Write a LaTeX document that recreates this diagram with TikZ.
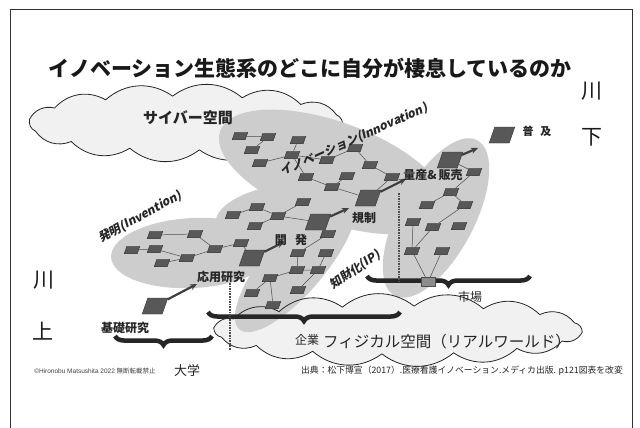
\documentclass[tikz,border=0pt]{standalone}
\usepackage{fontspec}
\setmainfont{Liberation Sans}
\newfontfamily\jp{Noto Sans CJK JP}
\newfontfamily\jpsl{Noto Sans CJK JP}[FakeSlant=0.2]
\usetikzlibrary{decorations.pathreplacing,arrows.meta}
\definecolor{ellgray}{HTML}{CDCDCD}
\definecolor{cloudfill}{HTML}{F1F1F1}
\definecolor{nodefill}{HTML}{585858}
\definecolor{nodedraw}{HTML}{303030}
\begin{document}
\begin{tikzpicture}[x=1pt,y=-1pt,
  sq/.style={draw=nodedraw, line width=0.4pt, fill=nodefill, minimum width=13pt, minimum height=7.5pt, inner sep=0pt, xslant=0.35, transform shape},
  big/.style={sq, minimum width=20pt, minimum height=16pt},
  lnk/.style={draw=black!70, line width=0.5pt},
  arr/.style={-{Stealth[length=7pt,width=6pt]}, line width=2.2pt, draw=black!75},
  lbl/.style={font=\jp\bfseries\fontsize{12}{12}\selectfont, text=black!85, inner sep=1pt},
  rot/.style={font=\jpsl\bfseries\fontsize{12}{12}\selectfont, text=black!85, inner sep=0pt},
  big text/.style={font=\jp\fontsize{21}{21}\selectfont, text=black!90, inner sep=0pt},
  cloudline/.style={draw=black!85, line width=0.8pt},
  brc/.style={decorate, decoration={brace, amplitude=9pt, mirror}, line width=4.5pt, draw=black!85},
  dots/.style={densely dotted, line width=1.6pt, draw=black!70}]
\useasboundingbox (0,0) rectangle (640,428);
\fill[white] (0,0) rectangle (640,428);
% frame
\draw[line width=0.9pt, black!80] (10,430) -- (10,9) -- (632,9) -- (632,430);
% title
\node[big text, font=\jp\bfseries\fontsize{21}{21}\selectfont] (title) at (310,68) {イノベーション生態系のどこに自分が棲息しているのか};
\node[big text] (kawa1) at (592,91) {川};
\node[big text] (shimo) at (592,137) {下};
\node[big text] (kawa2) at (44,280) {川};
\node[big text] (kami) at (43,331) {上};
% cloud outlines (points on ellipses)
\foreach \i in {0,...,13}
  \coordinate (cA\i) at ({186+158*cos(\i*360/14+8)}, {123+27*sin(\i*360/14+8)});
\foreach \i in {0,...,15}
  \coordinate (cB\i) at ({398+185*cos(\i*360/16+5)}, {330+24*sin(\i*360/16+5)});
% top cloud
\fill[cloudfill] (cA0) \foreach \i in {1,...,13} { to[bend left=38] (cA\i) } to[bend left=38] (cA0);
\draw[cloudline] (cA0) \foreach \i in {1,...,13} { to[bend left=38] (cA\i) } to[bend left=38] (cA0);
% bottom cloud fill
\fill[cloudfill] (cB0) \foreach \i in {1,...,15} { to[bend left=38] (cB\i) } to[bend left=38] (cB0);
% ellipses
\fill[ellgray, rotate around={-20:(333,172)}] (333,172) ellipse [x radius=120, y radius=50];
\fill[ellgray, rotate around={62:(436,218)}] (436,218) ellipse [x radius=88, y radius=38];
\fill[ellgray, rotate around={3:(193,253)}] (193,253) ellipse [x radius=82, y radius=35];
\fill[ellgray, rotate around={8:(282,215)}] (282,215) ellipse [x radius=67, y radius=30];
\fill[ellgray, rotate around={50:(296,262)}] (296,262) ellipse [x radius=88, y radius=30];
% bottom cloud outline
\draw[cloudline] (cB0) \foreach \i in {1,...,15} { to[bend left=38] (cB\i) } to[bend left=38] (cB0);
% invention nodes
\node[sq] (i1) at (155,235) {};
\node[sq] (i2) at (195,234) {};
\node[sq] (i3) at (132,250) {};
\node[sq] (i4) at (155,249) {};
\node[sq] (i5) at (162,263) {};
\node[sq] (i6) at (187,258) {};
\node[sq] (i7) at (215,249) {};
\node[sq] (i8) at (241,243) {};
\node[big] (iL) at (252,258) {};
% kaihatsu nodes
\node[sq] (k1) at (233,215) {};
\node[sq] (k2) at (257,207) {};
\node[sq] (k3) at (278,216) {};
\node[sq] (k4) at (303,202) {};
\node[sq] (k5) at (255,226) {};
\node[big] (kL) at (318,222) {};
% chizai nodes
\node[sq] (c1) at (328,234) {};
\node[sq] (c2) at (298,253) {};
\node[sq] (c3) at (326,253) {};
\node[sq] (c4) at (297,270) {};
\node[sq] (c5) at (318,270) {};
\node[sq] (c6) at (270,278) {};
\node[sq] (c7) at (252,293) {};
\node[sq] (c8) at (298,290) {};
\node[sq] (c9) at (273,305) {};
% innovation nodes
\node[sq] (n1) at (240,136) {};
\node[sq] (n2) at (268,137) {};
\node[sq] (n3) at (298,140) {};
\node[sq] (n4) at (252,150) {};
\node[sq] (n5) at (260,163) {};
\node[sq] (n6) at (292,155) {};
\node[sq] (n7) at (327,160) {};
\node[sq] (n8) at (355,148) {};
\node[sq] (n9) at (370,165) {};
\node[sq] (n10) at (347,176) {};
\node[sq] (n11) at (306,177) {};
\node[sq] (n12) at (332,187) {};
\node[sq] (n13) at (392,177) {};
\node[big] (nL) at (368,198) {};
% market nodes
\node[big] (mL) at (450,160) {};
\node[sq] (m1) at (474,172) {};
\node[sq] (m2) at (451,192) {};
\node[sq] (m3) at (427,205) {};
\node[sq] (m4) at (465,205) {};
\node[sq] (m5) at (413,222) {};
\node[sq] (m6) at (433,227) {};
\node[sq] (m7) at (459,226) {};
\node[sq] (m8) at (412,251) {};
\node[sq] (m9) at (442,251) {};
% other big nodes
\node[big] (b) at (155,306) {};
\node[big] (p) at (502,135) {};
% links
\draw[lnk] (i1) -- (i2) (i2) -- (i7) (i3) -- (i4) (i4) -- (i6) (i5) -- (i6) (i6) -- (i7) (i7) -- (i8) (i8) -- (iL);
\draw[lnk] (k1) -- (k2) (k2) -- (k3) (k3) -- (k4) (k5) -- (k3) (k3) -- (kL);
\draw[lnk] (kL) -- (c1) (c1) -- (c2) (c2) -- (c4) (c3) -- (c5) (c4) -- (c5) (c6) -- (c4) (c6) -- (c7) (c6) -- (c9) (c8) -- (c5);
\draw[lnk] (n1) -- (n2) (n2) -- (n4) (n3) -- (n6) (n5) -- (n6) (n6) -- (n7) (n6) -- (n11) (n7) -- (n8) (n8) -- (n9) (n9) -- (n13) (n11) -- (n12) (n12) -- (nL) (n13) -- (nL) (n10) -- (n12);
\draw[lnk] (mL) -- (m1) (m1) -- (m2) (m2) -- (m3) (m2) -- (m4) (m4) -- (m6) (m5) -- (m8) (m6) -- (m8);
% braces
\draw[brc] (115,336) -- (212,336);
\draw[brc] (208,312) -- (400,312);
\draw[brc] (367,276) -- (530,276);
% market square
\node[draw=black!70, fill=black!45, minimum width=14pt, minimum height=9pt, inner sep=0pt] (mS) at (428,282) {};
\draw[lnk] (m8) -- (mS) (m9) -- (mS);
% dotted lines
\coordinate (d1a) at (230,283);
\coordinate (d1b) at (230,350);
\coordinate (d2a) at (399,193);
\coordinate (d2b) at (399,282);
\draw[dots] (d1a) -- (d1b);
\draw[dots] (d2a) -- (d2b);
% arrows
\coordinate (a1e) at (197,284);
\coordinate (a2e) at (284,242);
\coordinate (a3e) at (349,208);
\coordinate (a4e) at (406,179);
\coordinate (a5e) at (478,148);
\draw[arr] (b) -- (a1e);
\draw[arr] (iL) -- (a2e);
\draw[arr] (kL) -- (a3e);
\draw[arr] (nL) -- (a4e);
\draw[arr] (mL) -- (a5e);
% labels
\node[lbl, font=\jp\bfseries\fontsize{15}{15}\selectfont] (cyberlbl) at (188,118) {サイバー空間};
\node[lbl, font=\jp\bfseries\fontsize{11}{11}\selectfont] (fukyu) at (537,131) {普\hspace{0.6em}及};
\node[lbl] (ryosan) at (433,175) {量産\&\,販売};
\node[lbl] (kisei) at (364,218) {規制};
\node[lbl] (kaihatsu) at (291,240) {開\hspace{0.7em}発};
\node[lbl] (oyo) at (221,277) {応用研究};
\node[lbl] (kiso) at (125,328) {基礎研究};
\node[rot, rotate=35] (chizai) at (355,270) {知財化(IP)};
\node[rot, rotate=29] (invlbl) at (140,217) {発明(Invention)};
\node[rot, rotate=24] (innolbl) at (354,140) {イノベーション(Innovation)};
\node[lbl, font=\jp\fontsize{12}{12}\selectfont] (ichiba) at (470,297) {市場};
\node[lbl, font=\jp\fontsize{12}{12}\selectfont] (kigyo) at (307,340) {企業};
\node[lbl, font=\jp\fontsize{15.5}{15.5}\selectfont] (physlbl) at (447,342) {フィジカル空間（リアルワールド）};
\node[lbl, font=\jp\fontsize{13}{13}\selectfont] (daigaku) at (187,371) {大学};
\node[inner sep=0pt, font=\fontsize{6.5}{6.5}\selectfont, text=black!75] (copy) at (95,371) {©Hironobu Matsushita 2022 {\jp 無断転載禁止}};
\node[inner sep=0pt, font=\jp\fontsize{8.8}{8.8}\selectfont, text=black!85] (src) at (462,371) {出典：松下博宣（2017）.医療看護イノベーション.メディカ出版. p121図表を改変};
\end{tikzpicture}
\end{document}
